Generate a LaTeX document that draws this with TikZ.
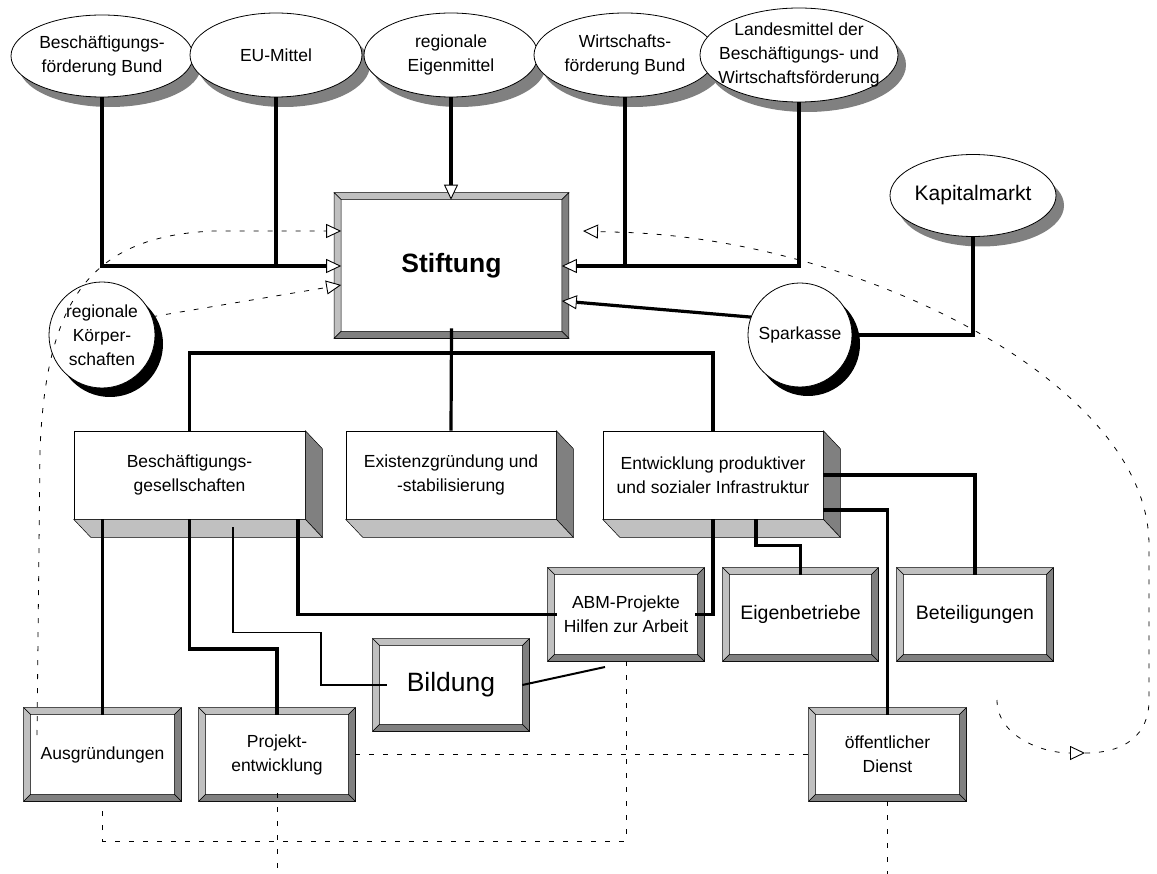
\documentclass[tikz,border=0pt]{standalone}
\usepackage{fontspec}
\setmainfont{Liberation Sans}
\usetikzlibrary{arrows.meta,shapes.geometric,calc,shadows}
\definecolor{ltg}{HTML}{C0C0C0}
\definecolor{dkg}{HTML}{808080}
\newcommand\fsN{\fontsize{17.5pt}{24pt}\selectfont}
\newcommand\fsB{\fontsize{26.5pt}{30pt}\selectfont}
\newcommand\fsK{\fontsize{21pt}{25pt}\selectfont}
\newcommand\fsM{\fontsize{19.5pt}{24pt}\selectfont}
\newcommand\bevbox[2][ltg]{%
  \path[bevl] (#2.north west) -- (#2.north east) -- ($(#2.north east)+(-7,7)$) -- ($(#2.north west)+(7,7)$) -- cycle;
  \path[bevl,fill=#1] (#2.north west) -- ($(#2.north west)+(7,7)$) -- ($(#2.south west)+(7,-7)$) -- (#2.south west) -- cycle;
  \path[bevd] (#2.north east) -- (#2.south east) -- ($(#2.south east)+(-7,-7)$) -- ($(#2.north east)+(-7,7)$) -- cycle;
  \path[bevd] (#2.south west) -- (#2.south east) -- ($(#2.south east)+(-7,-7)$) -- ($(#2.south west)+(7,-7)$) -- cycle;
}
\newcommand\tdbox[1]{%
  \path[bevd] (#1.north east) -- ($(#1.north east)+(17,18)$) -- ($(#1.south east)+(17,18)$) -- (#1.south east) -- cycle;
  \path[bevl] (#1.south west) -- (#1.south east) -- ($(#1.south east)+(17,18)$) -- ($(#1.south west)+(17,18)$) -- cycle;
}
\tikzset{
  txt/.style={align=center,font=\fsN,inner sep=0pt},
  topell/.style={ellipse,draw=black,line width=0.8pt,fill=white,inner sep=0pt,
    drop shadow={shadow xshift=8pt,shadow yshift=-10pt,opacity=1,fill=dkg}},
  circ/.style={circle,draw=black,line width=0.8pt,fill=white,inner sep=0pt,
    drop shadow={shadow xshift=8pt,shadow yshift=-9pt,opacity=1,fill=black}},
  bvnode/.style={rectangle,draw=black,line width=0.6pt,fill=white,inner sep=0pt,align=center,font=\fsN},
  bevl/.style={fill=ltg,draw=black,line width=0.5pt},
  bevd/.style={fill=dkg,draw=black,line width=0.5pt},
  thk/.style={line width=3.2pt},
  thn/.style={line width=1.6pt},
  med/.style={line width=2pt},
  dsh/.style={line width=0.8pt,dash pattern=on 5pt off 9pt},
}
\begin{document}
\begin{tikzpicture}[x=1pt,y=-1pt,>={Triangle[length=15pt,width=14pt,fill=white,line width=0.9pt]}]
\useasboundingbox (0,0) rectangle (1157,874);
\fill[white] (0,0) rectangle (1157,874);

% top ellipses
\node[topell,minimum width=182pt,minimum height=82pt,label={[txt]center:{Beschäftigungs-\\förderung Bund}}] (E1) at (102,56) {};
\node[topell,minimum width=172pt,minimum height=84pt,label={[txt]center:{EU-Mittel}}] (E2) at (276,55) {};
\node[topell,minimum width=174pt,minimum height=84pt,label={[txt]center:{regionale\\Eigenmittel}}] (E3) at (451,55) {};
\node[topell,minimum width=182pt,minimum height=84pt,label={[txt]center:{Wirtschafts-\\förderung Bund}}] (E4) at (625,55) {};
\node[topell,minimum width=198pt,minimum height=94pt,label={[txt]center:{Landesmittel der\\Beschäftigungs- und\\Wirtschaftsförderung}}] (E5) at (799,55) {};
\node[topell,minimum width=166pt,minimum height=82pt,label={[txt,font=\fsK]center:{Kapitalmarkt}}] (Kap) at (973,195.5) {};

% circles
\node[circ,minimum size=106pt,label={[txt]center:{regionale\\Körper-\\schaften}}] (Kor) at (102,335) {};
\node[circ,minimum size=104pt,label={[txt]center:{Sparkasse}}] (Spk) at (800,335) {};

% Stiftung
\node[bvnode,minimum width=234pt,minimum height=145pt,font=\fsB\bfseries] (Stif) at (451.5,265.5) {Stiftung};
\bevbox{Stif}
\coordinate (sl) at ([xshift=7pt]Stif.west);
\coordinate (sr) at ([xshift=-7pt]Stif.east);
\coordinate (st) at ([yshift=-7pt]Stif.north);

% 3D boxes
\node[bvnode,minimum width=231pt,minimum height=88pt] (Bg) at (189.5,475) {Beschäftigungs-\\gesellschaften};
\tdbox{Bg}
\node[bvnode,minimum width=210pt,minimum height=88pt] (Ex) at (451,475) {Existenzgründung und\\-stabilisierung};
\tdbox{Ex}
\node[bvnode,minimum width=220pt,minimum height=88pt] (En) at (713,475) {Entwicklung produktiver\\und sozialer Infrastruktur};
\tdbox{En}

% bevel boxes
\node[bvnode,minimum width=156pt,minimum height=93pt] (ABM) at (626,614.5) {ABM-Projekte\\Hilfen zur Arbeit};
\bevbox{ABM}
\node[bvnode,minimum width=155pt,minimum height=93pt,font=\fsM] (Eig) at (800.5,614.5) {Eigenbetriebe};
\bevbox{Eig}
\node[bvnode,minimum width=156pt,minimum height=93pt,font=\fsM] (Bet) at (975,614.5) {Beteiligungen};
\bevbox{Bet}
\node[bvnode,minimum width=156pt,minimum height=92pt,font=\fsB] (Bil) at (451,685) {Bildung};
\bevbox{Bil}
\node[bvnode,minimum width=157pt,minimum height=93pt] (Aus) at (102.5,754.5) {Ausgründungen};
\bevbox{Aus}
\node[bvnode,minimum width=156pt,minimum height=93pt] (Prj) at (277,754.5) {Projekt-\\entwicklung};
\bevbox{Prj}
\node[bvnode,minimum width=157pt,minimum height=93pt] (Oef) at (887.5,754.5) {öffentlicher\\Dienst};
\bevbox{Oef}

% solid connectors
\draw[thk,->] (E1.south) -- (E1.south |- 0,266) -- (sl |- 0,266);
\draw[thk] (E2.south) -- (E2.south |- 0,266);
\draw[thk,->] (E3.south) -- (E3.south |- st);
\draw[thk] (E4.south) -- (E4.south |- 0,266);
\draw[thk,->] (E5.south) -- (E5.south |- 0,266) -- (sr |- 0,266);
\draw[thk] (Kap.south) -- (Kap.south |- Spk.east) -- (Spk.east);
\draw[thk,->] (Spk.160) -- (sr |- 0,301);

\draw[thk] ([yshift=10pt]Stif.south) -- (Ex.north);
\draw[thk] (Bg.north) -- (Bg.north |- 0,353) -- (En.north |- 0,353) -- (En.north);

\draw[thk] (Aus.north |- Bg.south) -- ([yshift=-7pt]Aus.north);
\draw[thk] (Bg.south) -- (Bg.south |- 0,649) -- (Prj.north |- 0,649) -- ([yshift=-7pt]Prj.north);
\draw[thn] ($(Bg.south)+(43.5,8)$) -- ++(0,105) -- ++(88,0) coordinate (bt) -- (bt |- Bil.west) -- ([xshift=14pt]Bil.west);
\draw[thk] ($(Bg.south)+(108.5,0)$) |- ([xshift=9pt]ABM.west);

\draw[thk] (En.south) |- ([xshift=-9pt]ABM.east);
\draw[thk] ($(En.south)+(43,0)$) -- ++(0,26) -| ([yshift=-7pt]Eig.north);
\draw[thk] (En.east) -| ([yshift=-7pt]Bet.north);
\draw[thk] ($(En.east)+(0,35)$) -| ([yshift=-7pt]Oef.north);

\coordinate (bx) at (605,667);
\draw[med] ([xshift=-7pt]Bil.east) -- (bx);

% dashed connectors
\draw[dsh] (Prj.east) -- (Oef.west);
\draw[dsh] (ABM.south) -- (ABM.south |- 0,841) -- (Aus.south |- 0,841) -- ($(Aus.south)+(0,7)$);
\draw[dsh] ([yshift=8pt]Prj.south) -- (Prj.south |- 0,874);
\draw[dsh] (Oef.south) -- (Oef.south |- 0,874);
\draw[dsh,->] (Kor.20) -- (sl |- 0,285);
\coordinate (k0) at (37,735);
\draw[dsh,->] (k0) -- (40,450) .. controls (46,300) and (90,236) .. (214,231) -- (sl |- 0,231);
\coordinate (u0) at (997,700);
\coordinate (u1) at (1085,753);
\coordinate (u2) at (583,231);
\draw[dsh,->] (u0) .. controls (997,735) and (1040,753) .. (u1);
\draw[dsh,->] (u1) .. controls (1125,753) and (1149,735) .. (1149,700) -- (1149,545) .. controls (1149,380) and (850,235) .. (610,232) -- (u2);
\end{tikzpicture}
\end{document}
